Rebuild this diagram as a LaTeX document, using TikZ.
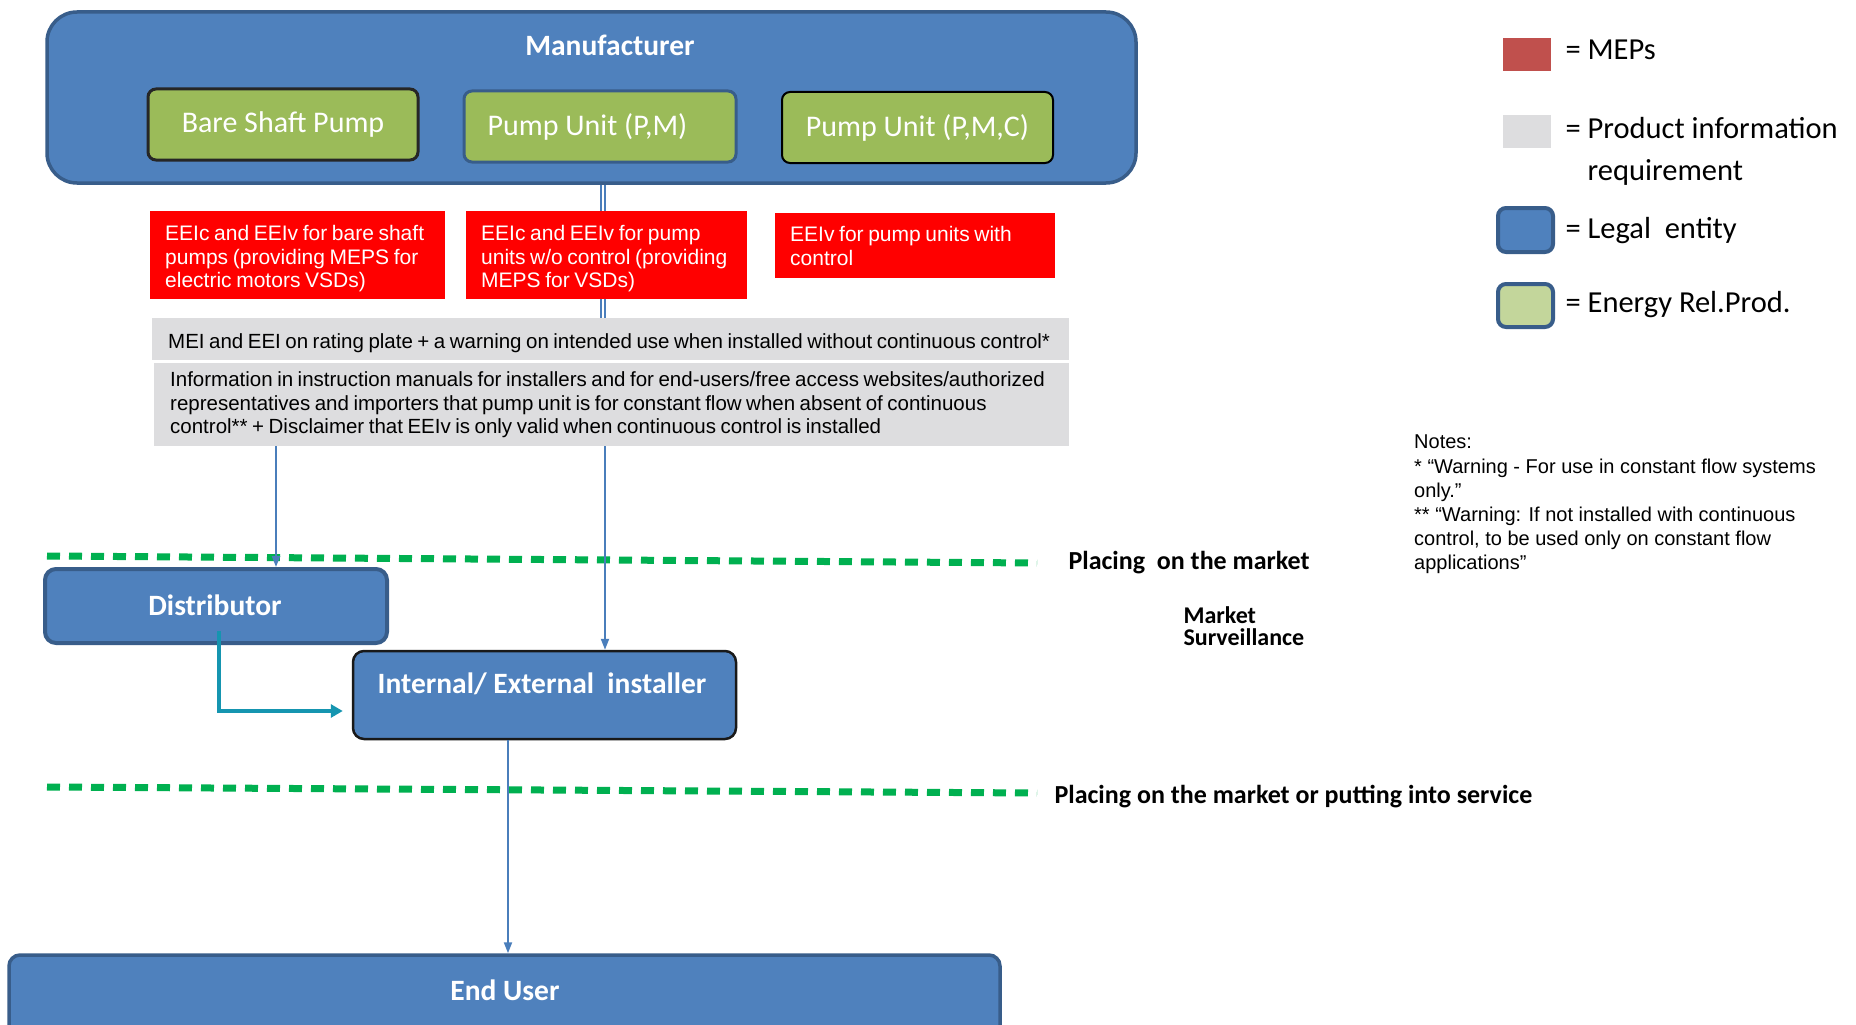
\documentclass[tikz,border=0pt]{standalone}
\usepackage{fontspec}
\setmainfont{Carlito}
\newfontfamily\arialfont{Liberation Sans}
\usetikzlibrary{arrows.meta,positioning}

\newcommand\tightspace{\spaceskip=0.22em plus 0.05em\relax}

\definecolor{legalblue}{HTML}{4F81BD}
\definecolor{legaledge}{HTML}{385D8A}
\definecolor{ergreen}{HTML}{9BBB59}
\definecolor{erlight}{HTML}{C3D69B}
\definecolor{mepred}{HTML}{FF0000}
\definecolor{mepkey}{HTML}{C0504D}
\definecolor{infogrey}{HTML}{DDDDDF}
\definecolor{marketgreen}{HTML}{00B050}
\definecolor{flowblue}{HTML}{4A7EBB}
\definecolor{feedteal}{HTML}{1595B0}

\tikzset{
  legal/.style={draw=legaledge, line width=3.5pt, fill=legalblue, rounded corners=11pt, inner sep=0pt},
  whitebold/.style={text=white, font=\fontsize{29.5}{34}\selectfont\bfseries},
  product/.style={fill=ergreen, line width=3pt, rounded corners=8pt, minimum width=270pt, minimum height=71pt,
    text=white, font=\fontsize{30}{34}\selectfont},
  meps/.style={fill=mepred, text=white, anchor=north west, align=left, inner xsep=15pt, inner ysep=0pt,
    font=\arialfont\fontsize{21}{23.7}\selectfont, execute at begin node=\tightspace},
  info/.style={fill=infogrey, text=black, anchor=north west, align=left, inner xsep=16pt, inner ysep=0pt,
    font=\arialfont\fontsize{20.5}{23.7}\selectfont, execute at begin node=\tightspace},
  lowered/.style={execute at begin node={\tightspace\rule{0pt}{22pt}}},
  flow/.style={flowblue, line width=2pt, -{Triangle[length=11pt,width=8pt]}},
  feed/.style={feedteal, line width=3.5pt, -{Triangle[length=12pt,width=13pt]}},
  pipe/.style={flowblue, double=white, double distance=2.5pt, line width=1.8pt},
  market/.style={marketgreen, line width=7pt, dash pattern=on 13pt off 9pt},
  marketlbl/.style={anchor=west, align=left, font=\fontsize{26}{22}\selectfont\bfseries},
  key/.style={minimum width=48pt, minimum height=33pt, inner sep=0pt},
  keytext/.style={anchor=west, align=left, font=\fontsize{30.5}{42}\selectfont}
}

\begin{document}
\begin{tikzpicture}[x=1pt,y=-1pt]
\clip (0,0) rectangle (1856,1025);
\fill[white] (0,0) rectangle (1856,1025);

% manufacturer and its products
\node[legal, minimum width=1089pt, minimum height=171pt, rounded corners=30pt] (manuf) at (591.5,97.5) {};
\node[whitebold] (manuflbl) at (610,45) {Manufacturer};
\node[product, draw=black!85] (bare) at (283,124.5) {Bare Shaft Pump};
\node[product, draw=legaledge, minimum width=272pt] (pm) at (600,126.5) {Pump Unit (P,M)\kern25pt};
\node[product, draw=black, line width=2pt, minimum width=271pt] (pmc) at (917.5,127.5) {Pump Unit (P,M,C)};

% requirements
\node[meps, lowered, text width=265pt, minimum height=88pt] (req1) at (150,211)
  {EEIc and EEIv for bare shaft\\pumps (providing MEPS for\\electric motors VSDs)};
\node[meps, lowered, text width=251pt, minimum height=88pt] (req2) at (466,211)
  {EEIc and EEIv for pump\\units w/o control (providing\\MEPS for VSDs)};
\node[meps, text width=250pt, minimum height=65pt] (req3) at (775,213)
  {EEIv for pump units with\\control};
\node[info, lowered, text width=885pt, minimum height=42pt] (info1) at (152,318)
  {MEI and EEI on rating plate + a warning on intended use when installed without continuous control*};
\node[info, text width=883pt, minimum height=83pt] (info2) at (154,363)
  {Information in instruction manuals for installers and for end-users/free access websites/authorized\\
   representatives and importers that pump unit is for constant flow when absent of continuous\\
   control** + Disclaimer that EEIv is only valid when continuous control is installed};

\coordinate (colP) at (603,0);
\draw[pipe] (colP |- manuf.south) -- (colP |- req2.north);
\draw[pipe] (colP |- req2.south) -- (colP |- info1.north);

% market levels
\coordinate (m1a) at (47,556);
\coordinate (m1b) at (1037,563);
\coordinate (m2a) at (47,787);
\coordinate (m2b) at (1037,793);
\draw[market] (m1a) -- (m1b);
\draw[market] (m2a) -- (m2b);
\node[marketlbl] (place1) at (1065,563) {Placing\ \ on the market};
\node[marketlbl, anchor=north west, font=\fontsize{24}{22}\selectfont\bfseries] (survey) at (1180,603) {Market\\Surveillance};
\node[marketlbl] (place2) at (1051,797) {Placing on the market or putting into service};

% legal entities downstream
\node[legal, minimum width=342pt, minimum height=74pt, line width=4pt] (dist) at (216,606) {};
\node[whitebold] (distlbl) at (215,605) {Distributor};
\node[legal, draw=black!90, line width=2.5pt, minimum width=383pt, minimum height=88pt] (inst) at (544.5,695) {};
\node[whitebold] (instlbl) at (542,684) {Internal/ External\ \ installer};
\node[legal, minimum width=991pt, minimum height=85pt] (user) at (504.5,997.5) {};
\node[whitebold] (userlbl) at (505,990) {End User};

\coordinate (colA) at (276,0);
\coordinate (colB) at (605,0);
\coordinate (colC) at (508,0);
\coordinate (turn) at (219,711);
\draw[flow] (colA |- info2.south) -- (colA |- dist.north);
\draw[flow] (colB |- info2.south) -- (colB |- inst.north);
\draw[flow] (colC |- inst.south) -- (colC |- user.north);
\draw[feed] ([yshift=-25pt]dist.center -| turn) -- (turn) -- ([xshift=-9pt]turn -| inst.west);

% legend
\node[key, fill=mepkey] (keymeps) at (1527,54.5) {};
\node[keytext] (txtmeps) at (1562,50) {= MEPs};
\node[key, fill=infogrey] (keyinfo) at (1527,131.5) {};
\node[keytext, anchor=north west] (txtinfo) at (1562,114) {= Product information\\\phantom{= }requirement};
\node[key, legal, line width=4pt, rounded corners=8pt, minimum width=55pt, minimum height=44pt] (keylegal) at (1525.5,230) {};
\node[keytext] (txtlegal) at (1562,231) {= Legal\ \ entity};
\node[key, legal, fill=erlight, line width=4pt, rounded corners=8pt, minimum width=55pt, minimum height=43pt] (keyerp) at (1525.5,305.5) {};
\node[keytext] (txterp) at (1562,305) {= Energy Rel.Prod.};

% notes
\node[anchor=north west, align=left, inner sep=0pt, font=\arialfont\fontsize{20}{24.2}\selectfont] (notes) at (1414,435)
  {Notes:\\
   * “Warning - For use in constant flow systems\\
   only.”\\
   ** “Warning: If not installed with continuous\\
   control, to be used only on constant flow\\
   applications”};
\end{tikzpicture}
\end{document}
